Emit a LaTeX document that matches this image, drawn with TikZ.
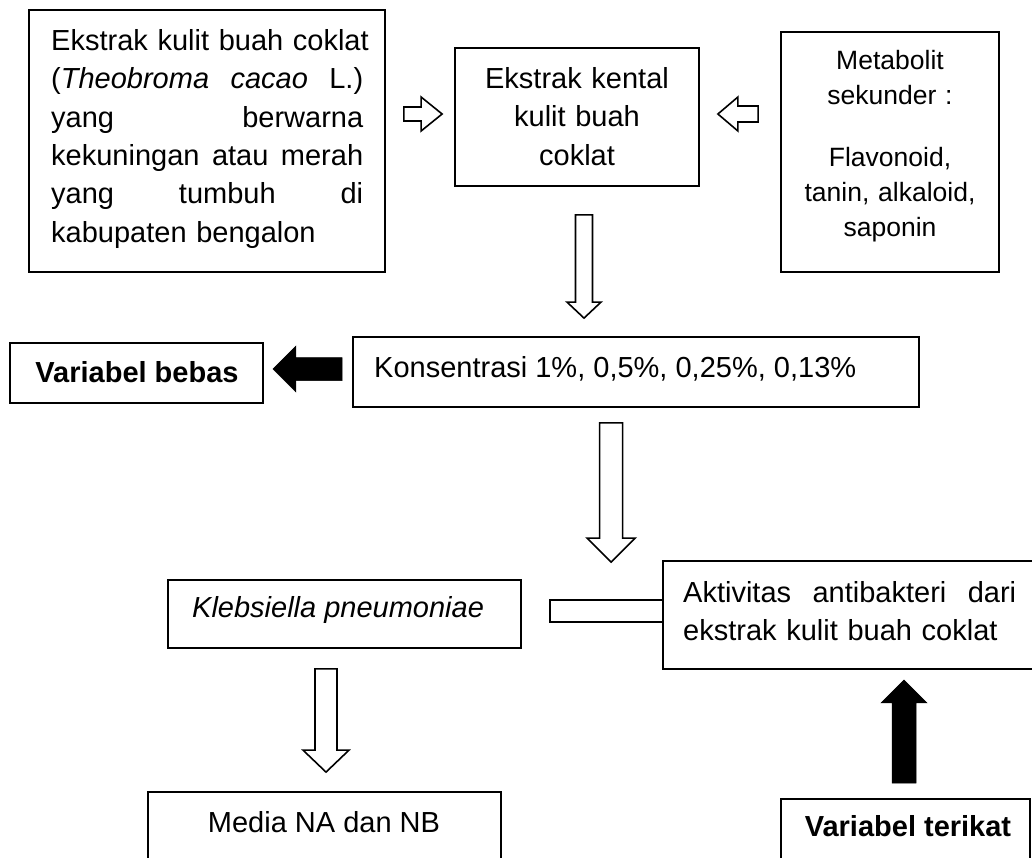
\documentclass[tikz,border=0pt]{standalone}
\usepackage{fontspec}
\setmainfont{Liberation Sans}
\usetikzlibrary{calc}
% block arrow: style, from, to, shaft half width, head half width, head length
\newcommand\blockarrow[6]{%
  \draw[#1] ($(#2)!#4!90:(#3)$) -- ($(#3)!#6!(#2)!#4!-90:(#2)$) -- ($(#3)!#6!(#2)!#5!-90:(#2)$) -- (#3)
    -- ($(#3)!#6!(#2)!#5!90:(#2)$) -- ($(#3)!#6!(#2)!#4!90:(#2)$) -- ($(#2)!#4!-90:(#3)$) -- cycle;}
\newcommand\fr{\rule{0pt}{24pt}}
\newcommand\jline[2]{\leavevmode\hbox to #1{#2}}
\begin{document}
\begin{tikzpicture}[x=1pt,y=-1pt,
  box/.style={draw, line width=1.8pt, inner sep=0pt, rectangle},
  txt/.style={inner sep=0pt, font=\fontsize{29pt}{38.4pt}\selectfont},
  txtb/.style={inner sep=0pt, font=\fontsize{29pt}{38.4pt}\selectfont\bfseries},
  txtsm/.style={inner sep=0pt, font=\fontsize{26.5pt}{35pt}\selectfont},
  outarrow/.style={draw, fill=white, line width=1.6pt, line join=miter},
  solidarrow/.style={draw, fill=black, line width=0.5pt, line join=miter},
  linkbar/.style={draw, line width=1.6pt}]
\useasboundingbox (0,0) rectangle (1032,857);
\clip (0,0) rectangle (1032,857);

% boxes
\node[box, minimum width=356pt, minimum height=262pt] (b1) at (207,141) {};
\node[box, minimum width=244pt, minimum height=138pt] (b2) at (577,117) {};
\node[box, minimum width=218pt, minimum height=240pt] (b3) at (890,152) {};
\node[box, minimum width=566pt, minimum height=70pt] (b4) at (636,372) {};
\node[box, minimum width=253pt, minimum height=60pt] (b5) at (136.5,373) {};
\node[box, minimum width=353pt, minimum height=68pt] (b6) at (344.5,614) {};
\node[box, minimum width=382pt, minimum height=108pt] (b8) at (854,615) {};
\node[box, minimum width=353pt, minimum height=88pt] (b7) at (324.5,836) {};
\node[box, minimum width=249pt, minimum height=81pt] (b9) at (905.5,839.5) {};

% texts
\node[txt, anchor=north west, text width=312pt, align=left] (t1) at (51,26)
  {\jline{312pt}{\fr Ekstrak kulit buah coklat\hfil}\\
   \jline{312pt}{(\textit{Theobroma}\hfill\textit{cacao}\hfill L.)}\\
   \jline{312pt}{yang\hfill berwarna}\\
   \jline{312pt}{kekuningan\hfill atau\hfill merah}\\
   \jline{312pt}{yang\hfill tumbuh\hfill di}\\
   \jline{312pt}{kabupaten bengalon\hfil}};
\node[txt, anchor=north, text width=240pt, align=center] (t2) at (577,64)
  {\fr Ekstrak kental\\kulit buah\\coklat};
\node[txtsm, anchor=north, text width=216pt, align=center] (t3) at (890,45)
  {\fr Metabolit\\sekunder :\\[27pt]Flavonoid,\\tanin, alkaloid,\\saponin};
\node[txt, anchor=base west] (t4) at (374,377) {Konsentrasi 1\%, 0,5\%, 0,25\%, 0,13\%};
\node[txtb, anchor=base] (t5) at (137,382) {Variabel bebas};
\node[txt, anchor=base west] (t6) at (192,617) {\textit{Klebsiella pneumoniae}};
\node[txt, anchor=north west, text width=333pt, align=left] (t8) at (683,578)
  {\jline{333pt}{\fr Aktivitas\hfill antibakteri\hfill dari}\\
   \jline{333pt}{ekstrak kulit buah coklat\hfil}};
\node[txt, anchor=base] (t7) at (324,832) {Media NA dan NB};
\node[txtb, anchor=base] (t9) at (908,836) {Variabel terikat};

% arrow end points
\coordinate (a1s) at ($(b1.east |- b2.west)+(18pt,3pt)$);
\coordinate (a1e) at ($(b2.west)+(-12pt,3pt)$);
\coordinate (a2s) at ($(b3.west |- b2.east)+(-22pt,3pt)$);
\coordinate (a2e) at ($(b2.east)+(18pt,3pt)$);
\coordinate (d1s) at ($(b2.south)+(7pt,-28pt)$);
\coordinate (d1e) at ($(d1s |- b4.north)+(0pt,18pt)$);
\coordinate (l1s) at ($(b4.west)+(-10pt,3pt)$);
\coordinate (l1e) at ($(l1s -| b5.east)+(9pt,0pt)$);
\coordinate (d2s) at ($(b4.south west)+(259pt,-15pt)$);
\coordinate (d2e) at ($(d2s |- b8.north)+(0pt,-2pt)$);
\coordinate (d3s) at ($(b7.north |- b6.south)+(1.5pt,-20pt)$);
\coordinate (d3e) at ($(b7.north)+(1.5pt,19pt)$);
\coordinate (u1s) at ($(b9.north)+(-1.5pt,15pt)$);
\coordinate (u1e) at ($(u1s |- b8.south)+(0pt,-10pt)$);
\coordinate (k1) at ($(b6.east)+(28pt,14pt)$);
\coordinate (k2) at ($(b6.east)+(28pt,-8pt)$);

% connectors
\blockarrow{outarrow}{a1s}{a1e}{7pt}{17pt}{21pt}
\blockarrow{outarrow}{a2s}{a2e}{8pt}{17pt}{20pt}
\blockarrow{outarrow}{d1s}{d1e}{8.5pt}{17pt}{16pt}
\blockarrow{solidarrow}{l1s}{l1e}{11.5pt}{23pt}{23pt}
\blockarrow{outarrow}{d2s}{d2e}{11.5pt}{24pt}{24pt}
\blockarrow{outarrow}{d3s}{d3e}{11pt}{23pt}{22pt}
\blockarrow{solidarrow}{u1s}{u1e}{12pt}{23pt}{23pt}
\draw[linkbar] (k1 -| b8.west) -- (k1) -- (k2) -- (k2 -| b8.west);
\end{tikzpicture}
\end{document}
